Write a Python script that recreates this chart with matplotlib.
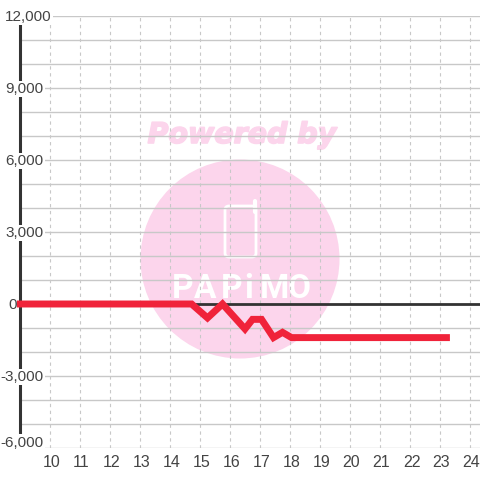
import matplotlib
matplotlib.use("Agg")
import matplotlib.pyplot as plt
import matplotlib.patheffects as pe
from matplotlib.patches import Circle, FancyBboxPatch
from matplotlib.transforms import ScaledTranslation

hours = [8.9, 14.72, 15.25, 15.75, 16.5, 16.75, 17.05, 17.45, 17.75, 18.05, 23.33]
values = [0, 0, -580, 0, -1040, -640, -640, -1400, -1180, -1400, -1400]

x_ticks = list(range(10, 25))
y_grid = list(range(-6000, 12001, 1000))
y_labels = [12000, 9000, 6000, 3000, 0, -3000, -6000]

plt.rcParams["font.family"] = ["Liberation Sans", "DejaVu Sans"]

fig = plt.figure(figsize=(4.8, 4.8), dpi=100)

# watermark sits behind everything, in pixel coords
bg = fig.add_axes([0, 0, 1, 1], zorder=0)
bg.set_xlim(0, 480)
bg.set_ylim(480, 0)
bg.axis("off")
pink = "#fcd5ec"
bg.add_patch(Circle((240, 259), 99.5, fc=pink, ec="none"))
bg.add_patch(FancyBboxPatch((225, 206), 31, 51, boxstyle="round,pad=0,rounding_size=4",
                            fc="none", ec="white", lw=2))
bg.plot([255, 255], [201, 212], color="white", lw=3, solid_capstyle="round")
bg.text(242, 135, "Powered by", color=pink, fontsize=20.5, family="DejaVu Sans",
        weight="bold", style="italic", ha="center", va="center",
        path_effects=[pe.withStroke(linewidth=1.2, foreground=pink)])
for lx, ch in zip([183, 205, 232, 249, 274, 299], "PAPiMO"):
    bg.text(lx, 289, ch, color="white", fontsize=24, family="Roboto", weight="bold",
            ha="center", va="center")

ax = fig.add_axes([20 / 480, 32 / 480, 460 / 480, 432 / 480], zorder=1)
ax.patch.set_alpha(0)
ax.set_xlim(9, 24.333)
ax.set_ylim(-6000, 12000)

for s in ax.spines.values():
    s.set_visible(False)

ax.set_xticks(x_ticks)
ax.set_yticks(y_grid)
ax.set_yticklabels([])
ax.tick_params(length=0, labelsize=11.5, labelcolor="#444444", pad=5)
ax.grid(axis="y", color="#c8c8c8", lw=1.0)
ax.grid(axis="x", color="#c8c8c8", lw=0.8, ls=(0, (3, 3.2)))
ax.set_axisbelow(True)

shift = ScaledTranslation(1.5 / 100, 0, fig.dpi_scale_trans)
for t in ax.get_xticklabels():
    t.set_transform(t.get_transform() + shift)

ax.axhline(0, color="#333333", lw=2, zorder=2)
ax.plot([9, 9], [-6000, 12000], color="#333333", lw=2.2, zorder=2, clip_on=False,
        solid_capstyle="butt")

# y labels have a white box that cuts the axis and the grid lines, except 0
tr = ax.get_yaxis_transform()
for v in y_labels:
    y = v
    right = 43.5
    box = dict(fc="white", ec="none", pad=1)
    if v == 12000:
        right = 51.5
    if v == -6000:
        y = v + 270
    if v == 0:
        right = 16.5
        box = None
    ax.annotate(f"{v:,}", xy=(0, y), xycoords=tr, xytext=(right - 20, -1),
                textcoords="offset pixels", ha="right", va="center", fontsize=11,
                color="#444444", zorder=3, annotation_clip=False, bbox=box)

ax.plot(hours, values, color="#f0233a", lw=5, zorder=4, solid_capstyle="butt",
        solid_joinstyle="miter", clip_on=False)

fig.savefig("out.png", dpi=100)
